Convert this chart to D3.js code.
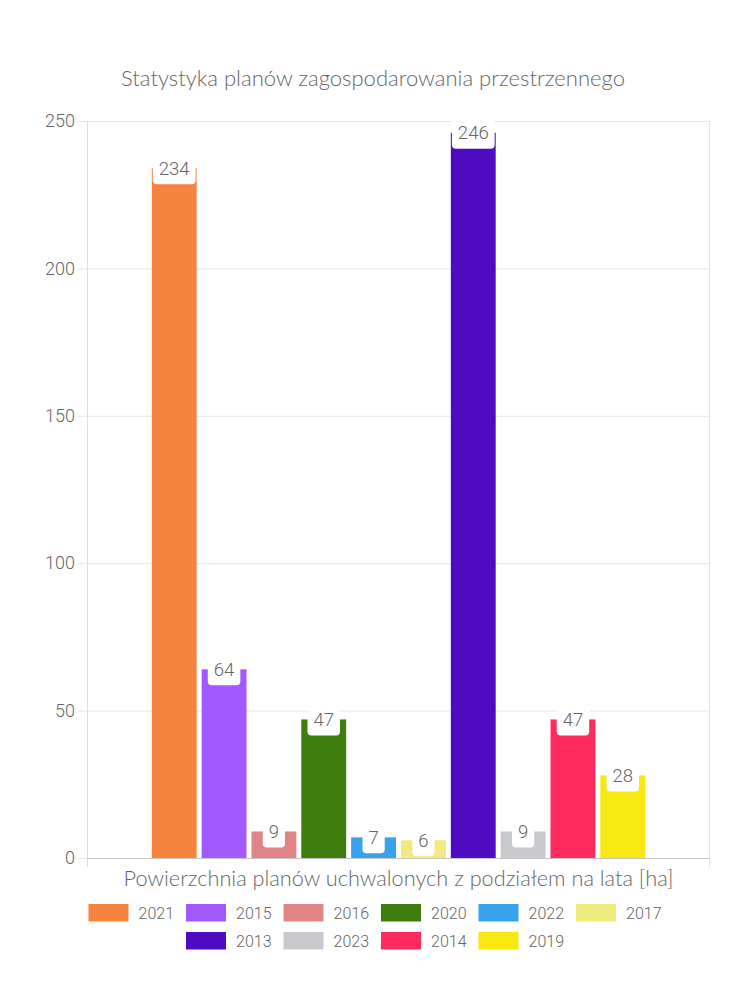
<!DOCTYPE html>
<html>
<head>
<meta charset="utf-8">
<script src="https://cdn.jsdelivr.net/npm/d3@7"></script>
<style>
  html, body { margin: 0; padding: 0; background: #fff; }
  svg { display: block; }
</style>
</head>
<body>
<svg id="chart" width="750" height="1000"></svg>
<script>
const years = ["2021","2015","2016","2020","2022","2017","2013","2023","2014","2019"];
const values = [234, 64, 9, 47, 7, 6, 246, 9, 47, 28];
const colors = ["#F5843F","#A259FF","#E08585","#3E7D0E","#38A3EB","#F0EB7F","#4F0BC0","#C9C9CD","#FF2A5E","#F7E811"];
const yTicks = [0, 50, 100, 150, 200, 250];
const titleText = "Statystyka planów zagospodarowania przestrzennego";
const xTitleText = "Powierzchnia planów uchwalonych z podziałem na lata [ha]";
const legendRows = [["2021","2015","2016","2020","2022","2017"],["2013","2023","2014","2019"]];

(function () {
const svg = d3.select("#chart");
const W = 750;
const pLeft = 87, pRight = 710, pTop = 121, pBottom = 858;
const numFont = "Roboto, 'Liberation Sans', Arial, sans-serif";
const titleFont = "Lato, 'Noto Sans', sans-serif";
const textColor = "#666";

// scales
const x0 = d3.scaleBand().domain([""]).range([pLeft, pRight]).padding(0);
const cw = x0.bandwidth();
const x1 = d3.scaleBand().domain(years)
  .range([pLeft + cw * 0.1, pLeft + cw * 0.9])
  .paddingInner(0.1).paddingOuter(0.05);
const y = d3.scaleLinear().domain([0, 250]).range([pBottom, pTop]);

// grid + y axis
const yAxis = d3.axisLeft(y).tickValues(yTicks).tickSize(-(pRight - pLeft)).tickPadding(12);
const gy = svg.append("g").attr("transform", `translate(${pLeft},0)`).call(yAxis);
gy.select(".domain").remove();
gy.selectAll(".tick line").attr("stroke", "#e6e6e6").attr("x1", -9);
gy.selectAll(".tick text").attr("fill", textColor).style("font-family", numFont)
  .style("font-weight", 300).style("font-size", "18px");
// left axis line + right border
svg.append("line").attr("x1", pLeft + 0.5).attr("x2", pLeft + 0.5).attr("y1", pTop).attr("y2", pBottom + 9).attr("stroke", "#e0e0e0");
svg.append("line").attr("x1", pRight - 0.5).attr("x2", pRight - 0.5).attr("y1", pTop).attr("y2", pBottom + 9).attr("stroke", "#e6e6e6");
// bottom axis
svg.append("line").attr("x1", pLeft).attr("x2", pRight).attr("y1", pBottom + 0.5).attr("y2", pBottom + 0.5).attr("stroke", "#c8c8c8");

// bars
const data = years.map((yr, i) => ({ yr, v: values[i], c: colors[i] }));
svg.append("g").selectAll("rect").data(data).join("rect")
  .attr("x", d => x1(d.yr))
  .attr("width", x1.bandwidth())
  .attr("y", d => y(d.v))
  .attr("height", d => y(0) - y(d.v))
  .attr("fill", d => d.c);

// value labels
const lab = svg.append("g").selectAll("g").data(data).join("g")
  .attr("transform", d => `translate(${x1(d.yr) + x1.bandwidth() / 2},${y(d.v)})`);
const labText = lab.append("text")
  .attr("text-anchor", "middle").attr("dy", "0.35em")
  .attr("fill", textColor).style("font-family", numFont).style("font-weight", 300).style("font-size", "18.5px")
  .text(d => d.v);
labText.each(function () {
  const w = this.getComputedTextLength();
  d3.select(this.parentNode).insert("rect", "text")
    .attr("x", -w / 2 - 6).attr("width", w + 12)
    .attr("y", -16).attr("height", 32)
    .attr("rx", 4).attr("fill", "#fff");
});

// titles
function fitText(sel, targetW, baseSize) {
  sel.style("font-size", baseSize + "px");
  const w = sel.node().getComputedTextLength();
  sel.style("font-size", (baseSize * targetW / w).toFixed(2) + "px");
}
const t = svg.append("text").attr("x", 373).attr("y", 86).attr("text-anchor", "middle")
  .attr("fill", textColor).style("font-family", titleFont).style("font-weight", 300).text(titleText);
fitText(t, 504, 18);
const xt = svg.append("text").attr("x", (pLeft + pRight) / 2).attr("y", 886).attr("text-anchor", "middle")
  .attr("fill", textColor).style("font-family", titleFont).style("font-weight", 300).text(xTitleText);
fitText(xt, 550, 18);

// legend
const colorOf = {};
years.forEach((yr, i) => colorOf[yr] = colors[i]);
const rowY = [904, 932];
legendRows.forEach((row, ri) => {
  const g = svg.append("g");
  let cx = 0;
  row.forEach((yr) => {
    const item = g.append("g").attr("transform", `translate(${cx},0)`);
    item.append("rect").attr("x", 0).attr("y", rowY[ri]).attr("width", 40).attr("height", 17.5).attr("fill", colorOf[yr]);
    const tx = item.append("text").attr("x", 50).attr("y", rowY[ri] + 9).attr("dy", "0.35em")
      .attr("fill", textColor).style("font-family", numFont).style("font-weight", 300).style("font-size", "16px").text(yr);
    cx += 50 + tx.node().getComputedTextLength() + 12;
  });
  const total = cx - 12;
  g.attr("transform", `translate(${W / 2 - total / 2},0)`);
});
})();
</script>
</body>
</html>
